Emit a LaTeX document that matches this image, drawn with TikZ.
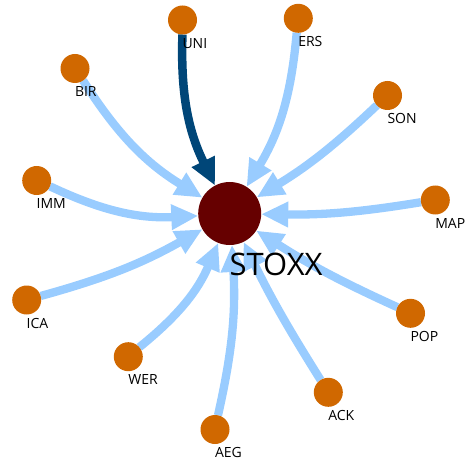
\documentclass[tikz,border=0pt]{standalone}
\usepackage{fontspec}
\setmainfont{Open Sans}
\usetikzlibrary{arrows.meta,backgrounds}
\definecolor{nodeorange}{RGB}{208,104,0}
\definecolor{hubred}{RGB}{102,0,0}
\definecolor{edgelight}{RGB}{153,204,255}
\definecolor{edgedark}{RGB}{0,70,120}
\tikzset{
  leaf/.style={circle, fill=nodeorange, minimum size=29pt, inner sep=0pt, outer sep=0pt},
  hub/.style={circle, fill=hubred, minimum size=63pt, inner sep=0pt, outer sep=0pt},
  lab/.style={inner sep=0pt, outer sep=0pt, anchor=north west, font=\fontsize{14pt}{16pt}\selectfont},
  hublab/.style={inner sep=0pt, outer sep=0pt, anchor=north west, font=\fontsize{31pt}{35pt}\selectfont},
  link/.style={draw=edgelight, line width=8.3pt, -{Triangle[length=27pt,width=24pt]}},
  strong/.style={draw=edgedark, line width=8.5pt, -{Triangle[length=27pt,width=24pt]}}
}
\begin{document}
\begin{tikzpicture}
\useasboundingbox (0pt,0pt) rectangle (468pt,-470pt);
% nodes
\node[hub] (stoxx) at (229.7pt,-213.5pt) {};
\node[leaf] (uni) at (182.5pt,-20pt) {};
\node[leaf] (ers) at (298.3pt,-18.3pt) {};
\node[leaf] (son) at (387.5pt,-95.5pt) {};
\node[leaf] (map) at (435.3pt,-200pt) {};
\node[leaf] (pop) at (410.5pt,-313.3pt) {};
\node[leaf] (ack) at (328.3pt,-392.3pt) {};
\node[leaf] (aeg) at (215pt,-429.5pt) {};
\node[leaf] (wer) at (128.3pt,-356.7pt) {};
\node[leaf] (ica) at (26.7pt,-300pt) {};
\node[leaf] (imm) at (36.7pt,-180.5pt) {};
\node[leaf] (bir) at (75pt,-68.5pt) {};
% labels
\node[hublab] (stoxxL) at ([yshift=-39.5pt]stoxx.center) {STOXX};
\node[lab] (uniL) at ([yshift=-18.3pt]uni.center) {UNI};
\node[lab] (ersL) at ([yshift=-18.3pt]ers.center) {ERS};
\node[lab] (sonL) at ([yshift=-18.3pt]son.center) {SON};
\node[lab] (mapL) at ([yshift=-18.3pt]map.center) {MAP};
\node[lab] (popL) at ([yshift=-18.3pt]pop.center) {POP};
\node[lab] (ackL) at ([yshift=-18.3pt]ack.center) {ACK};
\node[lab] (aegL) at ([yshift=-18.3pt]aeg.center) {AEG};
\node[lab] (werL) at ([yshift=-18.3pt]wer.center) {WER};
\node[lab] (icaL) at ([yshift=-18.3pt]ica.center) {ICA};
\node[lab] (immL) at ([yshift=-18.3pt]imm.center) {IMM};
\node[lab] (birL) at ([yshift=-18.3pt]bir.center) {BIR};
% edges
\begin{scope}[on background layer]
\draw[strong] (uni) to[bend right=14] (stoxx);
\draw[link] (ers) to[bend left=13] (stoxx);
\draw[link] (son) to[bend left=6] (stoxx);
\draw[link] (map) to[bend left=5] (stoxx);
\draw[link] (pop) to[bend left=4] (stoxx);
\draw[link] (ack) to[bend left=3] (stoxx);
\draw[link] (aeg) to[bend right=8] (stoxx);
\draw[link] (wer) to[bend right=14] (stoxx);
\draw[link] (ica) to[bend right=7] (stoxx);
\draw[link] (imm) to[bend right=14] (stoxx);
\draw[link] (bir) to[bend right=13] (stoxx);
\end{scope}
\end{tikzpicture}
\end{document}
